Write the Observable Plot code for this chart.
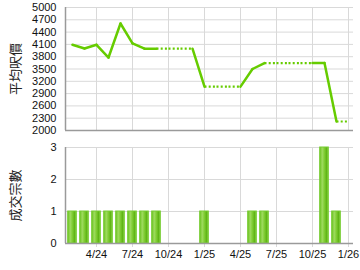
<!DOCTYPE html>
<html><head><meta charset="utf-8">
<script src="https://cdn.jsdelivr.net/npm/d3@7"></script>
<script src="https://cdn.jsdelivr.net/npm/@observablehq/plot@0.6"></script>
<style>body{margin:0;background:#fff;font-family:"Liberation Sans",Arial,sans-serif}#c svg{display:block}</style>
</head><body><div id="c"></div>
<script>
const months = ["2024-02","2024-03","2024-04","2024-05","2024-06","2024-07","2024-08","2024-09","2024-10","2024-11","2024-12",
  "2025-01","2025-02","2025-03","2025-04","2025-05","2025-06","2025-07","2025-08","2025-09","2025-10","2025-11","2025-12","2026-01"];
const prices = [4090,4000,4090,3780,4610,4125,3995,3995,null,null,null,3070,null,null,null,3500,3645,null,null,null,null,3645,2220,null];
const counts = [1,1,1,1,1,1,1,1,0,0,0,1,0,0,0,1,1,0,0,0,0,3,1,0];
const xTickLabels = ["4/24","7/24","10/24","1/25","4/25","7/25","10/25","1/26"];
const priceTicks = [2000,2300,2600,2900,3200,3500,3800,4100,4400,4700,5000];
const countTicks = [0,1,2,3];
const priceLabel = "平均呎價";
const countLabel = "成交宗數";

const mIdx = s => { const [y, m] = s.split("-").map(Number); return (y - 2024) * 12 + (m - 1); };
const tIdx = s => { const [m, y] = s.split("/").map(Number); return (2000 + y - 2024) * 12 + (m - 1); };
const xTicks = xTickLabels.map(tIdx);
const xFmt = v => xTickLabels[xTicks.indexOf(v)];
const xDomain = [5/12, 24 + 5/12];

let filled = [];
let last = null;
prices.forEach((p) => { if (p != null) last = p; filled.push(last); });
const segs = [];
for (let i = 1; i < months.length; i++) {
  segs.push({x1: mIdx(months[i-1]), y1: filled[i-1], x2: mIdx(months[i]), y2: filled[i], solid: prices[i] != null});
}
const bars = months.map((m, i) => ({m: mIdx(m), count: counts[i]})).filter(d => d.count > 0);

const GREEN = "#66cc00";
const GRID = "#d9d9d9";
const AX = "#9a9a9a";
const FONT = '"Liberation Sans", Arial, "Noto Sans CJK TC", sans-serif';

const priceChart = Plot.plot({
  width: 360, height: 137, marginLeft: 65, marginRight: 7, marginTop: 7, marginBottom: 7,
  style: {fontFamily: FONT, fontSize: "11px", color: "#000", background: "#fff"},
  x: {type: "linear", domain: xDomain, axis: null},
  y: {domain: [2000, 5000], axis: null},
  marks: [
    Plot.gridX(xTicks, {stroke: GRID, strokeOpacity: 1}),
    Plot.gridY(priceTicks, {stroke: GRID, strokeOpacity: 1}),
    Plot.axisY(priceTicks, {tickSize: 0, tickPadding: 9, tickFormat: "d", label: null, fontSize: 11, fill: "#111"}),
    Plot.ruleX([xDomain[0]], {stroke: AX, strokeWidth: 1.5}),
    Plot.ruleY([2000], {stroke: AX, strokeWidth: 1.5}),
    Plot.link(segs.filter(s => !s.solid), {x1: "x1", y1: "y1", x2: "x2", y2: "y2", stroke: GREEN, strokeWidth: 2.2, strokeDasharray: "2,2.2"}),
    Plot.link(segs.filter(s => s.solid), {x1: "x1", y1: "y1", x2: "x2", y2: "y2", stroke: GREEN, strokeWidth: 2.5, strokeLinecap: "round"}),
    Plot.text([priceLabel], {frameAnchor: "left", textAnchor: "middle", dx: -50, rotate: -90, fontSize: 13, fill: "#222"})
  ]
});

const countChart = Plot.plot({
  width: 360, height: 133, marginLeft: 65, marginRight: 7, marginTop: 10, marginBottom: 27,
  style: {fontFamily: FONT, fontSize: "11px", color: "#000", background: "#fff"},
  x: {type: "linear", domain: xDomain, axis: null},
  y: {domain: [0, 3], axis: null},
  marks: [
    Plot.gridX(xTicks, {stroke: GRID, strokeOpacity: 1}),
    Plot.gridY(countTicks, {stroke: GRID, strokeOpacity: 1}),
    Plot.axisY(countTicks, {tickSize: 0, tickPadding: 9, tickFormat: "d", label: null, fontSize: 11, fill: "#111"}),
    Plot.axisX(xTicks, {tickFormat: xFmt, tickSize: 4, tickPadding: 3, stroke: GRID, label: null, fontSize: 11, fill: "#111"}),
    Plot.rectY(bars, {x1: d => d.m - 0.36, x2: d => d.m + 0.36, y: "count", fill: "url(#barGrad)", stroke: "#77cc33", strokeWidth: 1}),
    Plot.ruleX([xDomain[0]], {stroke: AX, strokeWidth: 1.5}),
    Plot.ruleY([0], {stroke: AX, strokeWidth: 1.5}),
    Plot.text([countLabel], {frameAnchor: "left", textAnchor: "middle", dx: -50, rotate: -90, fontSize: 13, fill: "#222"})
  ]
});

const ns = "http://www.w3.org/2000/svg";
const defs = document.createElementNS(ns, "defs");
defs.innerHTML = '<linearGradient id="barGrad" x1="0" x2="1" y1="0" y2="0">' +
  '<stop offset="0" stop-color="#6abf1f"/><stop offset="0.3" stop-color="#9edb5e"/>' +
  '<stop offset="0.55" stop-color="#7fcc33"/><stop offset="0.8" stop-color="#5fb515"/><stop offset="1" stop-color="#8fd24a"/></linearGradient>';
countChart.insertBefore(defs, countChart.firstChild);

document.getElementById("c").append(priceChart, countChart);
</script></body></html>
